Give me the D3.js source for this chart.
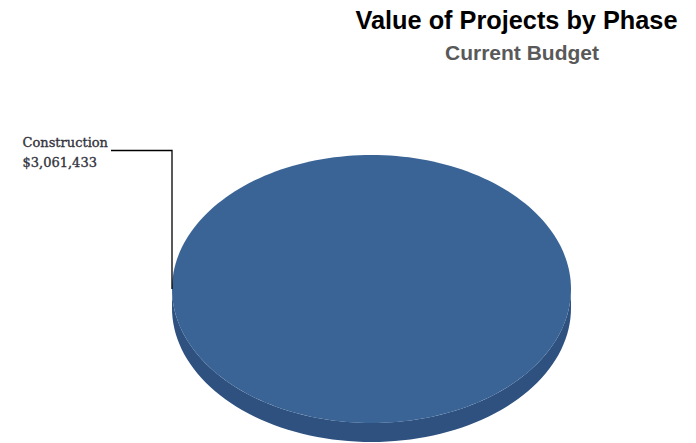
<!DOCTYPE html>
<html>
<head>
<meta charset="utf-8">
<script src="https://cdn.jsdelivr.net/npm/d3@7"></script>
<style>
  html, body { margin: 0; padding: 0; background: #ffffff; }
  svg { display: block; }
</style>
</head>
<body>
<svg id="chart" width="696" height="443"></svg>
<script>
// Budget by project phase
const phases = ["Construction"];
const budgetValues = [3061433];
const titleText = "Value of Projects by Phase";
const subtitleText = "Current Budget";

const width = 696, height = 443;
const svg = d3.select("#chart");

// Tilted pie geometry
const cx = 371.5, cy = 289, rx = 199.5, ry = 134, depth = 19;
const topColors = ["#3a6496"];
const sideColors = ["#2e5180"];

const pie = d3.pie().sort(null).value(d => d);
const slices = pie(budgetValues);

// angle in d3 convention: 0 at 12 o'clock, clockwise
const px = a => cx + rx * Math.sin(a);
const py = (a, dy = 0) => cy - ry * Math.cos(a) + dy;

function sidePath(a0, a1) {
  // visible front wall lies between PI/2 and 3PI/2
  const s = Math.max(a0, Math.PI / 2), e = Math.min(a1, 3 * Math.PI / 2);
  if (e <= s) return null;
  const n = 80, pts = [];
  for (let i = 0; i <= n; i++) { const a = s + (e - s) * i / n; pts.push([px(a), py(a)]); }
  for (let i = n; i >= 0; i--) { const a = s + (e - s) * i / n; pts.push([px(a), py(a, depth)]); }
  return d3.line()(pts) + "Z";
}

function topPath(a0, a1) {
  const n = 200, pts = [];
  const full = a1 - a0 >= 2 * Math.PI - 1e-9;
  if (!full) pts.push([cx, cy]);
  for (let i = 0; i <= n; i++) { const a = a0 + (a1 - a0) * i / n; pts.push([px(a), py(a)]); }
  return d3.line()(pts) + "Z";
}

const g = svg.append("g");

// front walls first
slices.forEach((s, i) => {
  const d = sidePath(s.startAngle, s.endAngle);
  if (d) g.append("path").attr("d", d).attr("fill", sideColors[i % sideColors.length]);
});
// top faces
slices.forEach((s, i) => {
  g.append("path").attr("d", topPath(s.startAngle, s.endAngle))
    .attr("fill", topColors[i % topColors.length]);
});

// Data label with leader line (anchored at the left rim)
const fmt = d3.format("$,");
slices.forEach((s, i) => {
  const anchorAngle = 3 * Math.PI / 2;
  const ax = px(anchorAngle), ay = py(anchorAngle);
  const lx = 22.5, ly = 146.7;
  const lineY = 150.5;
  svg.append("path")
    .attr("d", d3.line()([[111, lineY], [ax, lineY], [ax, ay]]))
    .attr("fill", "none").attr("stroke", "#000000").attr("stroke-width", 1.3);
  const t = svg.append("text")
    .attr("x", lx).attr("y", ly)
    .attr("font-family", "'DejaVu Serif', serif")
    .attr("font-size", 13)
    .attr("fill", "#33333d")
    .attr("stroke", "#33333d").attr("stroke-width", 0.35);
  t.append("tspan").attr("x", lx).text(phases[i]);
  t.append("tspan").attr("x", lx).attr("dy", 20.7).text(fmt(s.value));
});

// Titles
svg.append("text")
  .attr("x", 516.5).attr("y", 29)
  .attr("text-anchor", "middle")
  .attr("font-family", "'Liberation Sans', Arial, sans-serif")
  .attr("font-weight", "bold").attr("font-size", 25.3)
  .attr("fill", "#000000")
  .text(titleText);
svg.append("text")
  .attr("x", 522).attr("y", 60)
  .attr("text-anchor", "middle")
  .attr("font-family", "'Liberation Sans', Arial, sans-serif")
  .attr("font-weight", "bold").attr("font-size", 21)
  .attr("fill", "#595959")
  .text(subtitleText);
</script>
</body>
</html>
